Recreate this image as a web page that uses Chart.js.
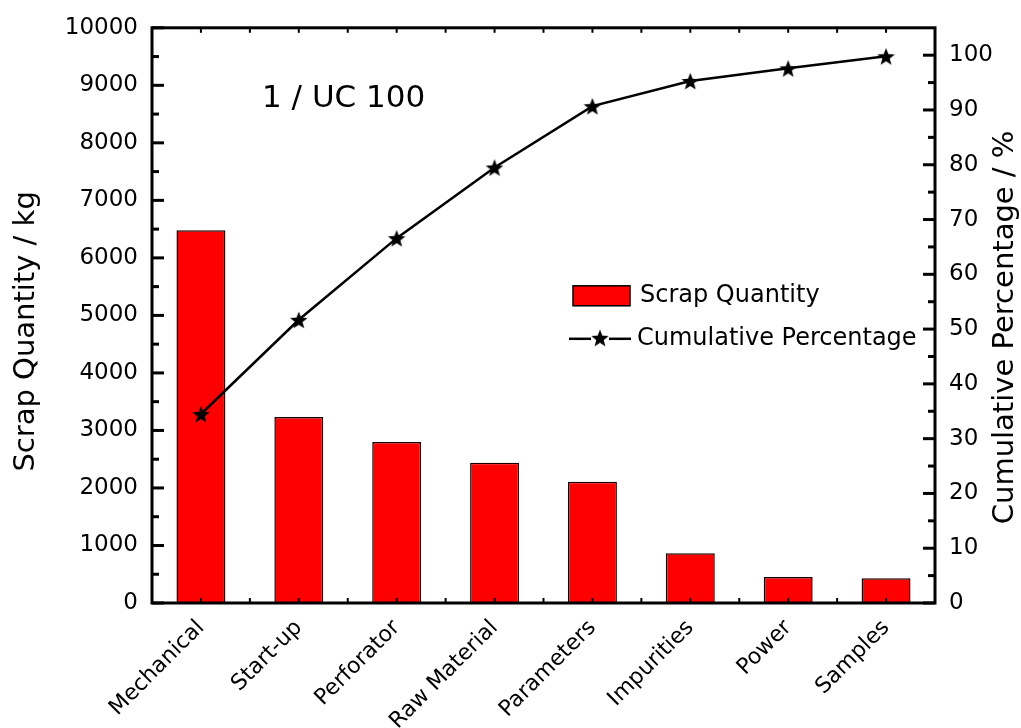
<!DOCTYPE html>
<html><head><meta charset="utf-8">
<script src="https://cdn.jsdelivr.net/npm/chart.js@4.4.1/dist/chart.umd.min.js"></script>
<style>html,body{margin:0;padding:0;background:#fff;}#wrap{width:1021px;height:728px;}</style>
</head><body><div id="wrap"><canvas id="c" width="1021" height="728"></canvas></div>
<script>
const categories = ["Mechanical","Start-up","Perforator","Raw Material","Parameters","Impurities","Power","Samples"];
const scrapQuantity = [6480, 3235, 2800, 2440, 2110, 865, 450, 430];
const cumulativePercentage = [34.5, 51.7, 66.6, 79.5, 90.7, 95.3, 97.6, 99.8];
const leftTicks = [0,1000,2000,3000,4000,5000,6000,7000,8000,9000,10000];
const rightTicks = [0,10,20,30,40,50,60,70,80,90,100];

const FONT = "'DejaVu Sans', Verdana, sans-serif";

function makeStar(size){
  const c = document.createElement('canvas');
  c.width = size; c.height = size;
  const g = c.getContext('2d');
  const cx = size/2, cy = size/2 + 1, R = size*0.42, r = R*0.42;
  g.beginPath();
  for (let i=0;i<10;i++){
    const rad = i%2===0 ? R : r;
    const a = -Math.PI/2 + i*Math.PI/5;
    const x = cx + rad*Math.cos(a), y = cy + rad*Math.sin(a);
    if(i===0) g.moveTo(x,y); else g.lineTo(x,y);
  }
  g.closePath();
  g.fillStyle = '#000'; g.fill();
  return c;
}
const starImg = makeStar(22);

const framePlugin = {
  id: 'frame',
  afterDraw(chart){
    const {ctx, chartArea:a, scales} = chart;
    ctx.save();
    ctx.strokeStyle = '#000';
    ctx.lineWidth = 3;
    ctx.strokeRect(a.left, a.top, a.right-a.left, a.bottom-a.top);
    const yL = scales.y, yR = scales.y1, x = scales.x;
    for (let v=0; v<=10000; v+=500){
      const py = yL.getPixelForValue(v);
      const len = (v%1000===0) ? 12 : 7;
      ctx.beginPath(); ctx.moveTo(a.left, py); ctx.lineTo(a.left+len, py); ctx.stroke();
    }
    for (let v=0; v<=100; v+=5){
      const py = yR.getPixelForValue(v);
      const len = (v%10===0) ? 12 : 7;
      ctx.beginPath(); ctx.moveTo(a.right, py); ctx.lineTo(a.right-len, py); ctx.stroke();
    }
    ctx.lineWidth = 2;
    const n = categories.length;
    const half = (x.getPixelForValue(1)-x.getPixelForValue(0))/2;
    for (let i=0;i<n;i++){
      const px = x.getPixelForValue(i);
      [px, px+half].forEach(p=>{
        if (p>=a.right-1) return;
        ctx.beginPath(); ctx.moveTo(p, a.bottom); ctx.lineTo(p, a.bottom-5); ctx.stroke();
        ctx.beginPath(); ctx.moveTo(p, a.top); ctx.lineTo(p, a.top+5); ctx.stroke();
      });
    }
    ctx.fillStyle = '#000';
    ctx.font = "29px " + FONT;
    ctx.textAlign = 'center';
    ctx.textBaseline = 'middle';
    // left axis title
    ctx.save();
    ctx.translate(26, (a.top+a.bottom)/2 + 16);
    ctx.rotate(-Math.PI/2);
    ctx.fillText("Scrap Quantity / kg", 0, 0);
    ctx.restore();
    // right axis title (reads bottom-to-top)
    ctx.save();
    ctx.translate(1005, (a.top+a.bottom)/2 + 12);
    ctx.rotate(-Math.PI/2);
    ctx.fillText("Cumulative Percentage / %", 0, 0);
    ctx.restore();
    // title text
    ctx.font = "31px " + FONT;
    ctx.textAlign = 'left';
    ctx.fillText("1 / UC 100", a.left + 110, a.top + 71);
    // legend
    const bar = chart.data.datasets[1], line = chart.data.datasets[0];
    const lx = a.left + 421, ly1 = a.top + 268, ly2 = a.top + 311;
    ctx.fillStyle = bar.backgroundColor;
    ctx.fillRect(lx, ly1-10, 57, 20);
    ctx.lineWidth = 1.5; ctx.strokeStyle = '#000';
    ctx.strokeRect(lx, ly1-10, 57, 20);
    ctx.fillStyle = '#000';
    ctx.font = "24px " + FONT;
    ctx.fillText(bar.label, lx + 67, ly1);
    ctx.lineWidth = 2.5;
    ctx.beginPath(); ctx.moveTo(lx-4, ly2); ctx.lineTo(lx+18, ly2); ctx.stroke();
    ctx.beginPath(); ctx.moveTo(lx+36, ly2); ctx.lineTo(lx+58, ly2); ctx.stroke();
    ctx.drawImage(starImg, lx+27-11, ly2-12);
    ctx.fillText(line.label, lx + 64, ly2);
    ctx.restore();
  }
};

new Chart(document.getElementById('c'), {
  data: {
    labels: categories,
    datasets: [
      {
        type: 'line',
        label: 'Cumulative Percentage',
        data: cumulativePercentage,
        yAxisID: 'y1',
        borderColor: '#000',
        borderWidth: 2.5,
        pointStyle: starImg,
        pointRadius: 10,
        tension: 0,
        order: 0
      },
      {
        type: 'bar',
        label: 'Scrap Quantity',
        data: scrapQuantity,
        yAxisID: 'y',
        backgroundColor: '#ff0000',
        borderColor: '#1a0000',
        borderWidth: 1.5,
        categoryPercentage: 1.0,
        barPercentage: 0.5,
        order: 1
      }
    ]
  },
  options: {
    responsive: false,
    animation: false,
    layout: { padding: { top: 25, left: 0, right: 0, bottom: 0 } },
    plugins: { legend: { display: false }, tooltip: { enabled: false } },
    scales: {
      x: {
        grid: { display: false, drawTicks: false },
        border: { display: false },
        ticks: { color: '#000', font: { family: FONT, size: 22 }, maxRotation: 45, minRotation: 45, padding: 12 },
        afterFit(s){ s.height = 125; }
      },
      y: {
        position: 'left',
        min: 0, max: 10000,
        afterBuildTicks(s){ s.ticks = leftTicks.map(v=>({value:v})); },
        grid: { display: false, drawTicks: false },
        border: { display: false },
        ticks: { color: '#000', font: { family: FONT, size: 23 }, padding: 14, callback: v => String(v) },
        afterFit(s){ s.width = 152; }
      },
      y1: {
        position: 'right',
        min: 0, max: 105,
        afterBuildTicks(s){ s.ticks = rightTicks.map(v=>({value:v})); },
        grid: { display: false, drawTicks: false },
        border: { display: false },
        ticks: { color: '#000', font: { family: FONT, size: 23 }, padding: 14, callback: v => String(v) },
        afterFit(s){ s.width = 86; }
      }
    }
  },
  plugins: [framePlugin]
});
</script>
</body></html>
